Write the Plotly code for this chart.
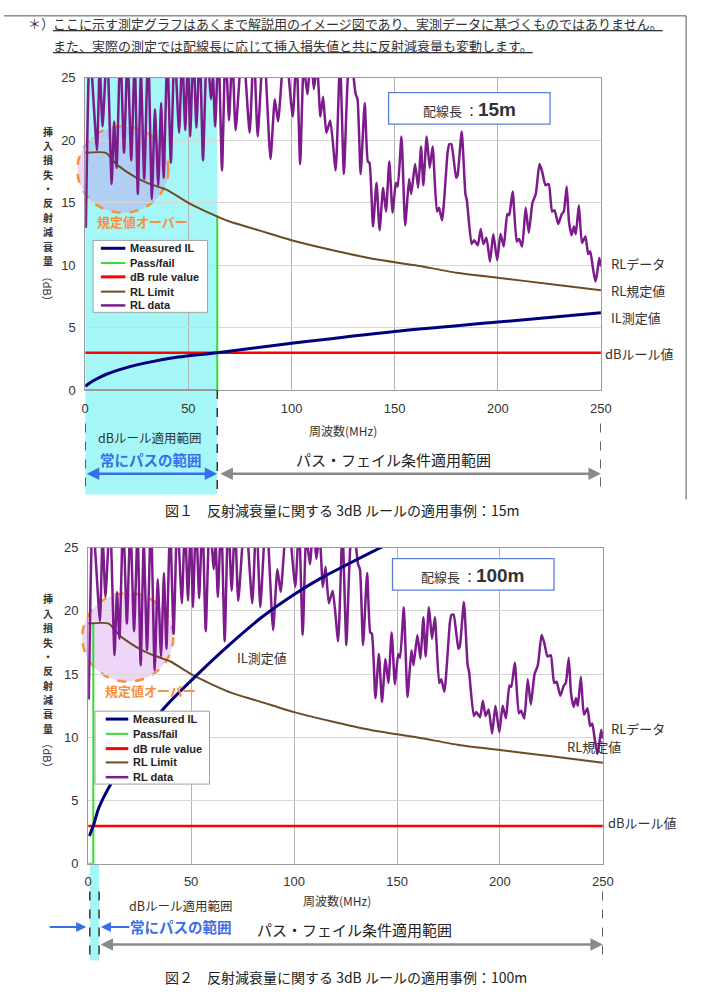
import plotly.graph_objects as go

W, H = 701, 993

# ---------------- data ----------------
freq_ticks = [0, 50, 100, 150, 200, 250]
db_ticks = [0, 5, 10, 15, 20, 25]

rl_freq = [0.3, 2.2, 5.7, 7.0, 8.4, 10.6, 12.8, 14.0, 15.2, 17.0, 18.8, 20.5, 22.3, 24.0, 25.5, 27.0,
           28.6, 30.5, 32.3, 33.8, 35.4, 36.8, 38.0, 39.8, 41.5, 43.3, 45.5, 47.0, 48.5, 49.8, 50.9,
           52.4, 53.9, 55.5, 57.1, 59.0, 61.0, 61.9, 63.0, 64.6, 66.3, 68.0, 69.7, 71.3, 72.9, 76.3,
           79.7, 81.7, 83.6, 86.5, 89.8, 91.9, 93.5, 96.8, 100.6, 102.4, 104.2, 105.9, 107.7, 109.4,
           110.8, 112.4, 114.0, 115.3, 116.9, 118.8, 121.4, 123.5, 125.4, 127.3, 128.9, 131.1, 132.0,
           133.5, 135.5, 137.0, 137.8, 139.5, 141.2, 142.7, 144.4, 145.8, 147.4, 149.0, 150.6, 151.5,
           153.3, 155.1, 157.0, 158.0, 159.9, 161.4, 162.8, 163.9, 165.5, 167.0, 168.4, 170.5, 171.5,
           173.0, 175.7, 176.5, 177.5, 179.8, 180.5, 182.5, 184.3, 185.0, 187.3, 188.5, 190.3, 191.7,
           193.0, 194.5, 196.2, 197.8, 199.7, 201.3, 202.9, 204.6, 205.5, 207.2, 209.2, 210.3, 211.8,
           213.5, 215.0, 216.8, 218.4, 220.2, 221.5, 223.1, 224.7, 226.3, 227.5, 229.3, 231.0, 232.0,
           233.4, 234.5, 235.8, 236.9, 237.8, 239.3, 240.8, 242.5, 243.8, 244.8, 246.0, 247.3, 248.0,
           249.2, 250.0]
rl_db = [13.0, 27.5, 19.2, 26.0, 21.1, 27.5, 16.5, 21.5, 17.8, 27.5, 19.0, 27.0, 18.4, 26.5, 15.7, 25.5,
         16.9, 27.5, 15.3, 22.5, 16.4, 23.0, 17.0, 27.0, 18.2, 27.5, 20.6, 27.0, 20.8, 27.0, 20.3,
         27.5, 21.0, 27.5, 18.4, 27.5, 23.3, 25.2, 21.1, 27.5, 17.6, 27.5, 21.6, 27.0, 20.8, 28.0,
         20.6, 27.5, 20.3, 28.0, 18.5, 23.3, 21.5, 28.0, 21.9, 27.0, 18.1, 26.0, 23.7, 27.0,
         24.1, 26.0, 21.9, 23.5, 20.6, 21.6, 17.6, 26.5, 17.3, 25.0, 26.5, 23.7, 23.3,
         17.3, 23.0, 18.3, 18.2, 13.1, 16.6, 12.8, 16.2, 14.3, 18.3, 14.2, 16.6, 16.3,
         20.3, 13.2, 16.9, 15.7, 18.1, 16.2, 19.5, 16.4, 20.3, 17.8, 19.5, 14.3, 14.6,
         13.6, 19.1, 19.7, 19.7, 17.0, 17.2, 20.7, 15.7, 15.2, 11.7, 12.0, 11.6, 12.9,
         11.7, 12.2, 10.3, 12.5, 10.4, 12.5, 11.5, 14.1, 14.0, 15.9, 11.9, 12.1, 11.5,
         14.6, 12.6, 15.0, 15.7, 18.1, 17.5, 16.4, 16.5, 14.3, 14.4, 13.3, 14.1, 14.3,
         16.3, 13.5, 12.4, 13.1, 12.5, 14.8, 11.8, 12.3, 10.9, 11.1, 9.9, 8.7, 9.2,
         10.6, 9.9]

limit_freq = [0, 10, 15, 20, 25, 30, 35, 40, 50, 60, 70, 80, 90, 100, 120, 140, 160, 180, 200, 225, 250]
limit_db = [19.0, 19.0, 18.1, 17.5, 17.0, 16.6, 16.3, 16.0, 15.0, 14.2, 13.5, 13.0, 12.5, 12.0,
            11.2, 10.5, 10.0, 9.4, 9.0, 8.5, 8.0]

il15_freq = [0, 2, 5, 10, 20, 30, 45, 64, 100, 150, 200, 250]
il15_db = [0.3, 0.55, 0.85, 1.25, 1.8, 2.2, 2.65, 3.0, 3.75, 4.7, 5.45, 6.2]

il100_freq = [0.6, 1.5, 2.7, 5.1, 10.6, 20, 36.8, 52.6, 68.4, 84.3, 100, 112, 125, 142, 155]
il100_db = [2.2, 2.6, 3.1, 4.4, 6.2, 8.6, 12.3, 14.9, 17.3, 19.5, 21.3, 22.5, 23.6, 25.0, 26.0]

pf15_freq = [0, 64, 64]
pf15_db = [0, 0, 14]
pf100_freq = [0, 2.5, 2.5]
pf100_db = [0, 0, 19]

rule_freq = [0, 250]
rule_db = [3, 3]

series_names = ["Measured IL", "Pass/fail", "dB rule value", "RL Limit", "RL data"]

# ---------------- styles ----------------
C_IL = "#00007F"
C_PF = "#33DD33"
C_RULE = "#FF0000"
C_LIM = "#6E4B22"
C_RL = "#7D1A8C"
C_CYAN = "#A5F7F7"
C_ORANGE = "#F7913A"
C_BLUE = "#3A6EE8"
JP = "Noto Sans CJK JP"
LAT = "Liberation Sans, Arial"


def px(x):
    return x / W


def py(y):
    return 1 - y / H


fig = go.Figure()

charts = [
    dict(xa="x", ya="y", il=(il15_freq, il15_db), pf=(pf15_freq, pf15_db),
         xdom=(83, 610), ydom=(72, 389)),
    dict(xa="x2", ya="y2", il=(il100_freq, il100_db), pf=(pf100_freq, pf100_db),
         xdom=(86, 612), ydom=(549, 870)),
]

for c in charts:
    kw = dict(xaxis=c["xa"], yaxis=c["ya"], mode="lines", showlegend=False, hoverinfo="skip")
    fig.add_trace(go.Scatter(x=rule_freq, y=rule_db, line=dict(color=C_RULE, width=2.5), name=series_names[2], **kw))
    fig.add_trace(go.Scatter(x=c["pf"][0], y=c["pf"][1], line=dict(color=C_PF, width=2), name=series_names[1], **kw))
    fig.add_trace(go.Scatter(x=limit_freq, y=limit_db, line=dict(color=C_LIM, width=2, shape="spline", smoothing=0.6),
                             name=series_names[3], **kw))
    fig.add_trace(go.Scatter(x=rl_freq, y=rl_db, line=dict(color=C_RL, width=2.5, shape="spline", smoothing=0.5),
                             name=series_names[4], **kw))
    fig.add_trace(go.Scatter(x=c["il"][0], y=c["il"][1], line=dict(color=C_IL, width=3, shape="spline", smoothing=0.8),
                             name=series_names[0], **kw))

axis_common = dict(showline=True, linecolor="#9A9A9A", linewidth=1, mirror=True, ticks="",
                   tickfont=dict(family=LAT, size=13, color="#333333"), zeroline=False,
                   ticklabelstandoff=6)

layout = dict(width=W, height=H, margin=dict(l=0, r=0, t=0, b=0),
              paper_bgcolor="white", plot_bgcolor="rgba(0,0,0,0)", showlegend=False)

for i, c in enumerate(charts):
    sx = "" if i == 0 else "2"
    layout["xaxis" + sx] = dict(domain=[px(c["xdom"][0]), px(c["xdom"][1])], range=[0, 250],
                                tickvals=freq_ticks, showgrid=True, gridcolor="#B4B4B4",
                                anchor="y" + sx, **axis_common)
    layout["yaxis" + sx] = dict(domain=[py(c["ydom"][1]), py(c["ydom"][0])], range=[0, 25],
                                tickvals=db_ticks, showgrid=True, gridcolor="#D6D6D6",
                                anchor="x" + sx, **axis_common)
fig.update_layout(**layout)

shapes = []
ann = []


def text(x, y, s, size=13, color="#222222", family=JP, xanchor="center", yanchor="middle", angle=0):
    ann.append(dict(x=px(x), y=py(y), xref="paper", yref="paper", text=s, showarrow=False,
                    font=dict(family=family, size=size, color=color), xanchor=xanchor, yanchor=yanchor,
                    textangle=angle))


def pline(x0, y0, x1, y1, color="#333", width=1, dash="solid"):
    shapes.append(dict(type="line", xref="paper", yref="paper", x0=px(x0), y0=py(y0), x1=px(x1), y1=py(y1),
                       line=dict(color=color, width=width, dash=dash)))


# frame at top
pline(0, 9, 697, 9, color="#555", width=1)
pline(697, 9, 697, 500, color="#555", width=1)

# header notes
text(22, 17, "＊）", size=13, xanchor="left", color="#333")
text(48, 17, "<u>ここに示す測定グラフはあくまで解説用のイメージ図であり、実測データに基づくものではありません。</u>",
     size=13, xanchor="left", color="#333")
text(48, 39, "<u>また、実際の測定では配線長に応じて挿入損失値と共に反射減衰量も変動します。</u>",
     size=13, xanchor="left", color="#333")

# ---------------- chart specific decorations ----------------
details = [
    dict(xa="x", pf=pf15_freq[1], cyan_bottom=495, top=72, label="15m",
         box=(393, 87, 558, 119), circle=(75, 121, 168, 209), over=(142, 218),
         legend_box=(91, 237, 208, 310), legend_y=[245, 260, 274, 289, 303], legend_x=(99, 124, 127),
         right=[("RLデータ", 618, 260, "left"), ("RL規定値", 618, 288, "left"), ("IL測定値", 618, 315, "left"),
                ("dBルール値", 612, 352, "left")],
         ytitle=(45, 126), ydb=286,
         xtitle=(346, 430), rule_txt=(149, 437), pass_txt=(150, 459), pf_txt=(398, 459), arrow_y=474,
         dash=(423, 495), caption=(345, 511), cap="図１　反射減衰量に関する 3dB ルールの適用事例：15m"),
    dict(xa="x2", pf=pf100_freq[1], cyan_bottom=968, top=870, label="100m",
         box=(397, 560, 562, 592), circle=(80, 595, 173, 685), over=(150, 694),
         legend_box=(93, 715, 210, 789), legend_y=[723, 738, 753, 767, 782], legend_x=(104, 127, 130),
         right=[("RLデータ", 618, 733, "left"), ("RL規定値", 573, 751, "left"), ("dBルール値", 615, 828, "left"),
                ("IL測定値", 264, 660, "center")],
         ytitle=(45, 601), ydb=760,
         xtitle=(340, 907), rule_txt=(180, 912), pass_txt=(181, 934), pf_txt=(358, 937), arrow_y=952,
         dash=(898, 968), caption=(349, 985), cap="図２　反射減衰量に関する 3dB ルールの適用事例：100m"),
]

for i, d in enumerate(details):
    xa = d["xa"]
    # cyan "always pass" area
    if i == 0:
        shapes.append(dict(type="rect", xref=xa, yref="paper", x0=0, x1=d["pf"], y0=py(d["cyan_bottom"]),
                           y1=py(d["top"]), fillcolor=C_CYAN, line=dict(width=0), layer="below"))
    else:
        shapes.append(dict(type="rect", xref=xa, yref="paper", x0=0.8, x1=5.3, y0=py(d["cyan_bottom"]),
                           y1=py(d["top"]), fillcolor=C_CYAN, line=dict(width=0), layer="below"))
    # circle "over limit"
    cx0, cy0, cx1, cy1 = d["circle"]
    shapes.append(dict(type="circle", xref="paper", yref="paper", x0=px(cx0), x1=px(cx1), y0=py(cy1), y1=py(cy0),
                       fillcolor="rgba(200,120,235,0.30)", line=dict(color=C_ORANGE, width=2.5, dash="dash"),
                       layer="below"))
    text(d["over"][0], d["over"][1], "<b>規定値オーバー</b>", size=13, color=C_ORANGE)

    # info box
    bx0, by0, bx1, by1 = d["box"]
    shapes.append(dict(type="rect", xref="paper", yref="paper", x0=px(bx0), x1=px(bx1), y0=py(by1), y1=py(by0),
                       fillcolor="white", line=dict(color="#5B80DA", width=1.3), layer="above"))
    text((bx0 + bx1) / 2, (by0 + by1) / 2 + 1,
         "配線長 ：<b><span style='font-size:19px;font-family:Liberation Sans'>" + d["label"] + "</span></b>",
         size=13, color="#333")

    # legend
    lx0, ly0, lx1, ly1 = d["legend_box"]
    shapes.append(dict(type="rect", xref="paper", yref="paper", x0=px(lx0), x1=px(lx1), y0=py(ly1), y1=py(ly0),
                       fillcolor="white", line=dict(color="#A0A0A0", width=1), layer="above"))
    leg_colors = [C_IL, C_PF, C_RULE, C_LIM, C_RL]
    leg_widths = [3, 2, 3, 2, 2.5]
    for name, col, wdt, yy in zip(series_names, leg_colors, leg_widths, d["legend_y"]):
        shapes.append(dict(type="line", xref="paper", yref="paper", x0=px(d["legend_x"][0]), x1=px(d["legend_x"][1]),
                           y0=py(yy), y1=py(yy), line=dict(color=col, width=wdt), layer="above"))
        text(d["legend_x"][2], yy, "<b>" + name + "</b>", size=11, family=LAT, xanchor="left", color="#222")

    # right side labels
    for s, x, y, anc in d["right"]:
        text(x, y, s, size=13, xanchor=anc, color="#333")

    # y-axis title (vertical, stacked characters)
    for k, ch in enumerate("挿入損失・反射減衰量"):
        text(d["ytitle"][0], d["ytitle"][1] + k * 14.6, "<b>" + ch + "</b>", size=10, color="#333")
    text(d["ytitle"][0], d["ydb"], "（dB）", size=11, color="#333", angle=90)

    # x title and range texts
    text(d["xtitle"][0], d["xtitle"][1], "周波数(MHz)", size=12, color="#333")
    text(d["rule_txt"][0], d["rule_txt"][1], "dBルール適用範囲", size=12.5, color="#333")
    text(d["pass_txt"][0], d["pass_txt"][1], "<b>常にパスの範囲</b>", size=14.5, color=C_BLUE)
    text(d["pf_txt"][0], d["pf_txt"][1], "パス・フェイル条件適用範囲", size=15, color="#222")
    text(d["caption"][0], d["caption"][1], d["cap"], size=14, color="#222")

    # dashed boundary lines
    yd0, yd1 = d["dash"]
    if i == 0:
        xs = [(0, yd0), (d["pf"], 389), (250, yd0)]
    else:
        xs = [(0.8, yd0), (5.3, yd0), (250, yd0)]
    for xv, ys in xs:
        shapes.append(dict(type="line", xref=xa, yref="paper", x0=xv, x1=xv, y0=py(ys), y1=py(yd1),
                           line=dict(color="#333", width=1.5, dash="dash")))

    ay = py(d["arrow_y"])
    if i == 0:
        ann.append(dict(x=d["pf"], y=ay, xref=xa, yref="paper", ax=0, ay=0, axref=xa, ayref="pixel", text="",
                        showarrow=True, arrowhead=2, arrowside="end+start", arrowsize=1, arrowwidth=2.5,
                        arrowcolor=C_BLUE))
        ann.append(dict(x=250, y=ay, xref=xa, yref="paper", ax=d["pf"] + 0.8, ay=0, axref=xa, ayref="pixel", text="",
                        showarrow=True, arrowhead=2, arrowside="end+start", arrowsize=1, arrowwidth=2.5,
                        arrowcolor="#8A8A8A"))
    else:
        ann.append(dict(x=250, y=ay, xref=xa, yref="paper", ax=5.3, ay=0, axref=xa, ayref="pixel", text="",
                        showarrow=True, arrowhead=2, arrowside="end+start", arrowsize=1, arrowwidth=2.5,
                        arrowcolor="#8A8A8A"))
        ann.append(dict(x=px(84), y=py(934), xref="paper", yref="paper", ax=-38, ay=0, text="",
                        showarrow=True, arrowhead=2, arrowsize=1, arrowwidth=2, arrowcolor=C_BLUE))
        ann.append(dict(x=px(99), y=py(934), xref="paper", yref="paper", ax=30, ay=0, text="",
                        showarrow=True, arrowhead=2, arrowsize=1, arrowwidth=2, arrowcolor=C_BLUE))

fig.update_layout(shapes=shapes, annotations=ann)
fig.write_html("out.html")
